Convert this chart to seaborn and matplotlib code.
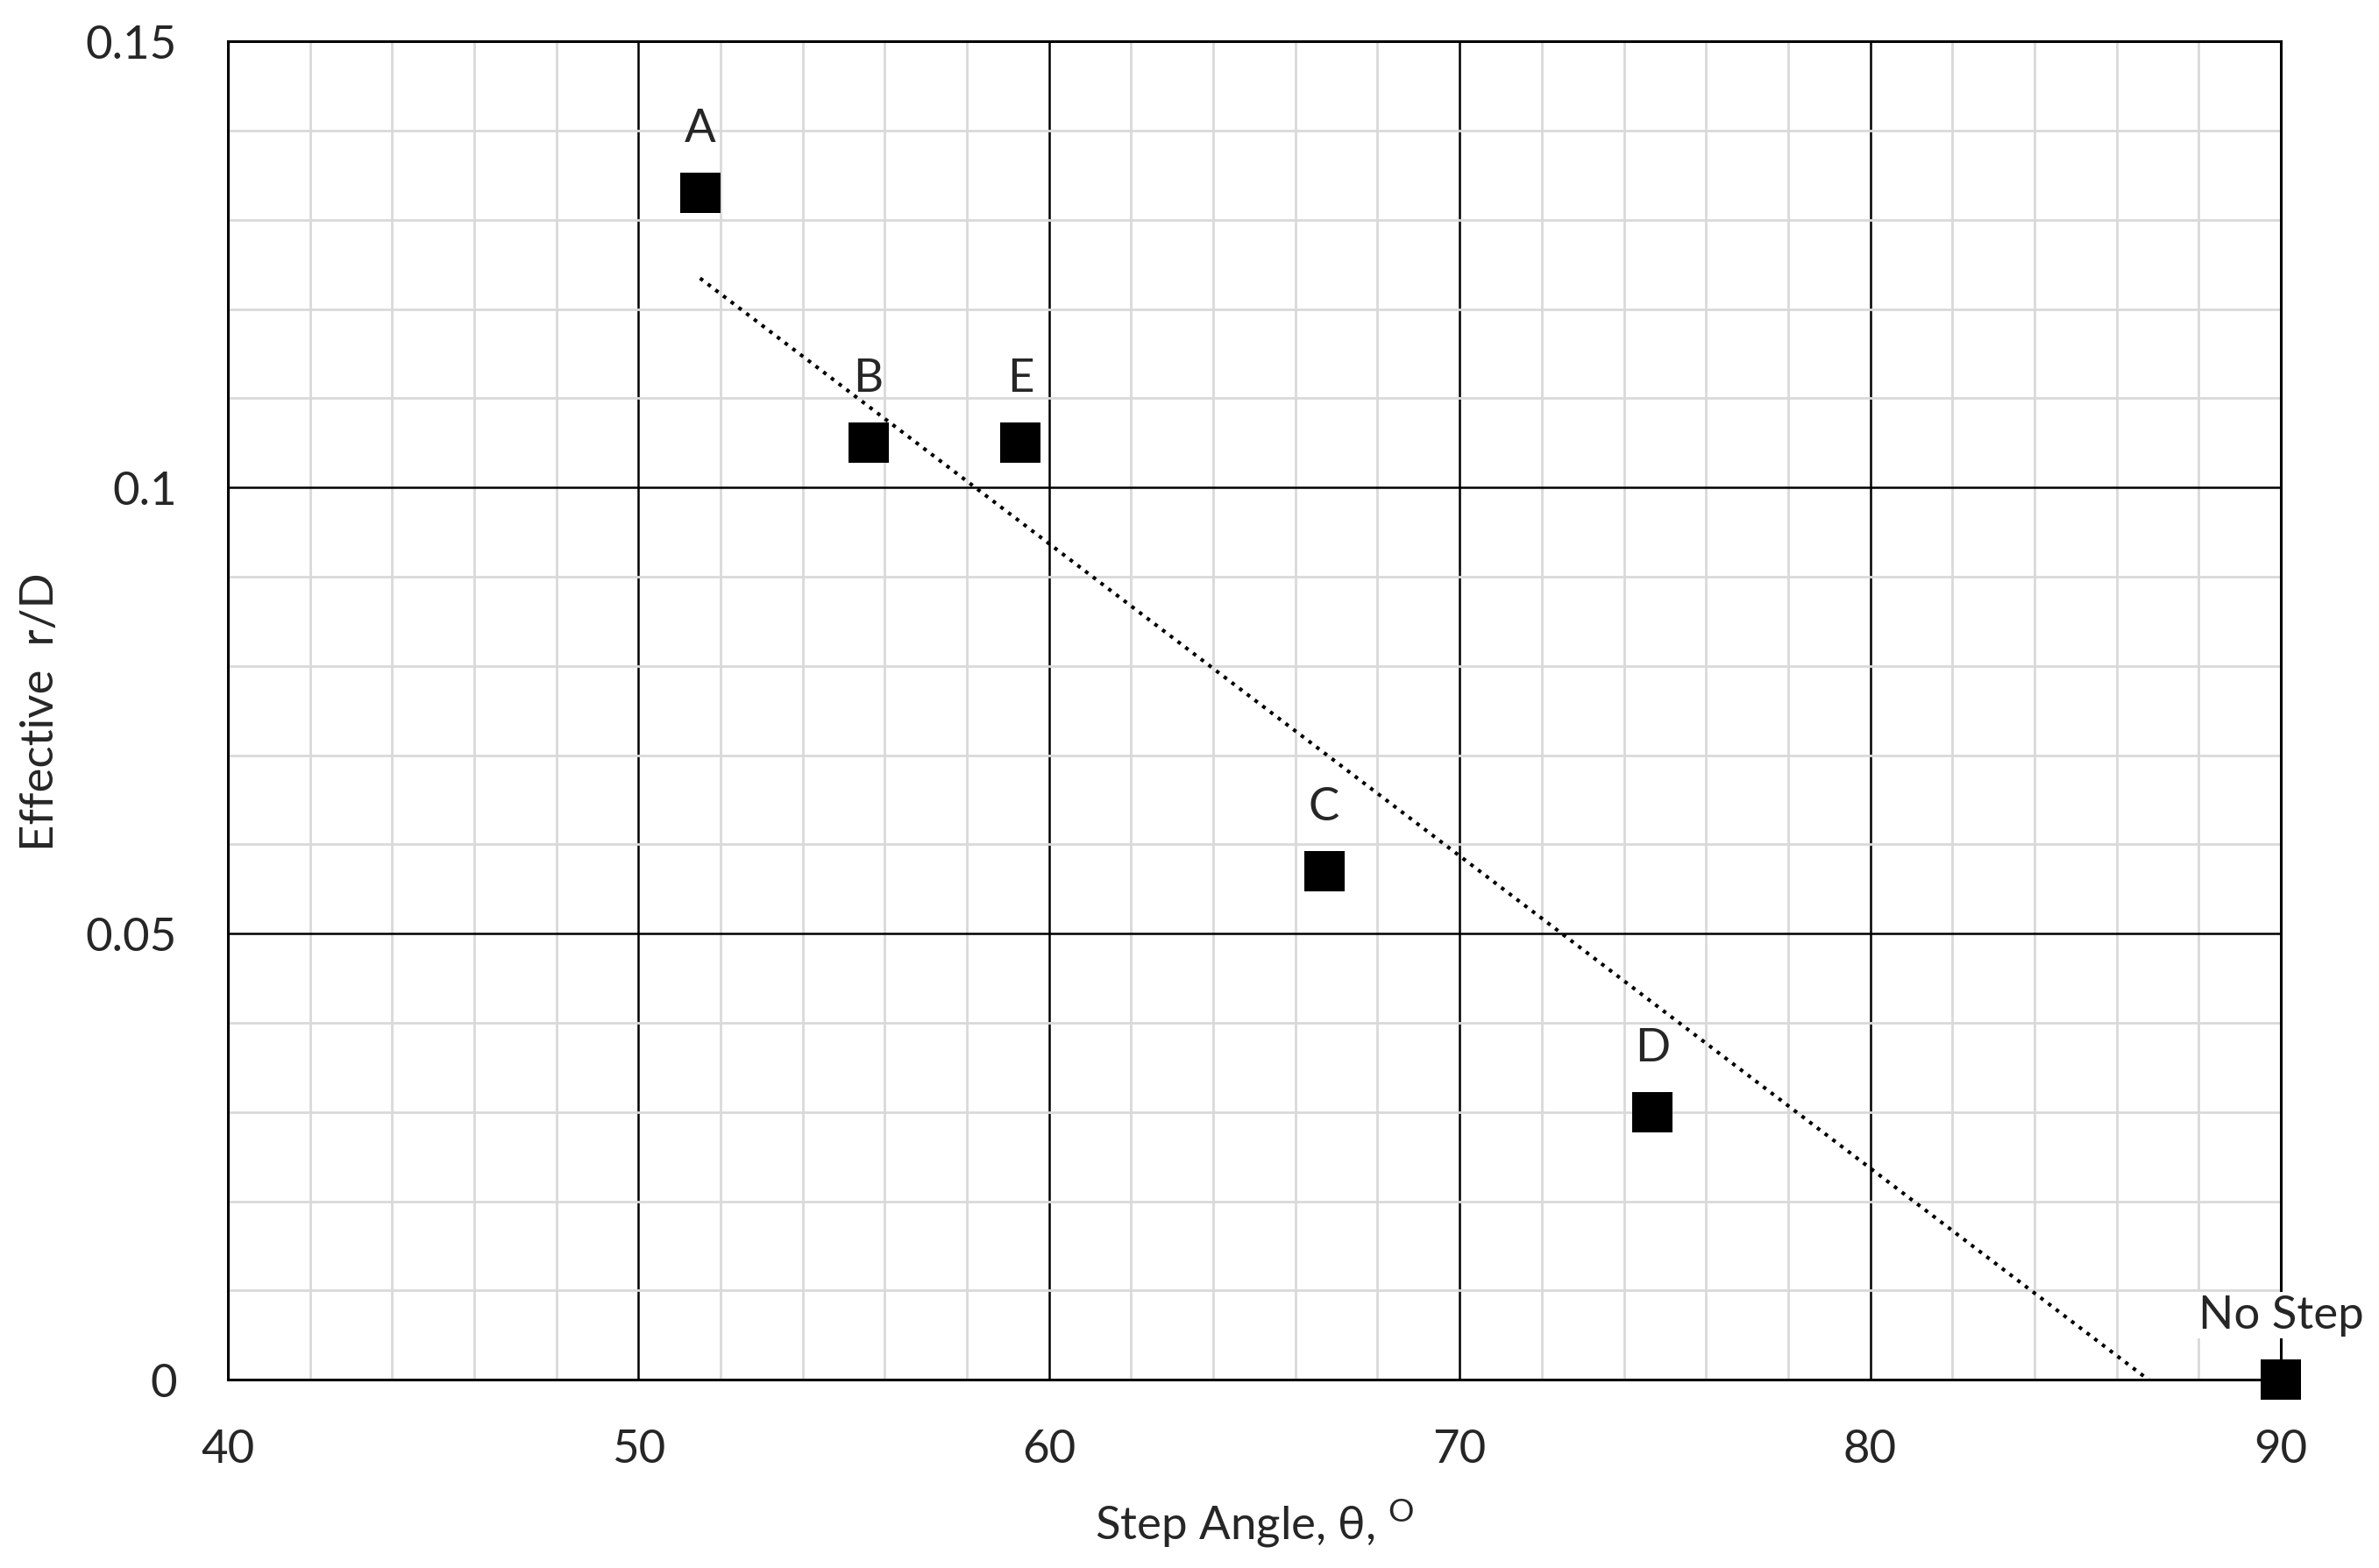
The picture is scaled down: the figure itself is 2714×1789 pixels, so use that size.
import matplotlib
matplotlib.use("Agg")
import matplotlib.pyplot as plt
from matplotlib.ticker import MultipleLocator
import pandas as pd
import seaborn as sns

# Datos
labels = ["A", "B", "E", "C", "D", "No Step"]
step_angle = [51.5, 55.6, 59.3, 66.7, 74.7, 90.0]
effective_rd = [0.133, 0.105, 0.105, 0.057, 0.030, 0.0]

df = pd.DataFrame({"label": labels, "angle": step_angle, "rd": effective_rd})

sns.set_style("white")
plt.rcParams["font.family"] = ["Lato", "DejaVu Sans"]
plt.rcParams["mathtext.fontset"] = "custom"
plt.rcParams["mathtext.rm"] = "Lato"

FS = 38

fig = plt.figure(figsize=(27.14, 17.90), dpi=100)
ax = fig.add_axes([0.0958, 0.120, 0.8629, 0.853])

# Línea de tendencia lineal (todos los puntos)
sns.regplot(data=df, x="angle", y="rd", ax=ax, scatter=False, ci=None, truncate=True,
            line_kws={"color": "black", "linestyle": ":", "linewidth": 3.0})

sns.scatterplot(data=df, x="angle", y="rd", ax=ax, marker="s", s=1100, color="black",
                edgecolor="none", clip_on=False, zorder=5)

for _, row in df.iterrows():
    kw = {}
    if row["label"] == "No Step":
        kw["bbox"] = dict(facecolor="white", edgecolor="none", pad=2)
    ax.annotate(row["label"], (row["angle"], row["rd"]), xytext=(0, 53),
                textcoords="offset points", ha="center", va="center",
                fontsize=FS, zorder=6, annotation_clip=False, **kw)

ax.set_xlim(40, 90)
ax.set_ylim(0, 0.15)
ax.xaxis.set_major_locator(MultipleLocator(10))
ax.xaxis.set_minor_locator(MultipleLocator(2))
ax.yaxis.set_major_locator(MultipleLocator(0.05))
ax.yaxis.set_minor_locator(MultipleLocator(0.01))
ax.set_yticks([0, 0.05, 0.1, 0.15])
ax.set_yticklabels(["0", "0.05", "0.1", "0.15"])

ax.grid(which="minor", color="#d9d9d9", linewidth=2.0, zorder=0)
ax.grid(which="major", color="black", linewidth=1.8, zorder=1)
ax.set_axisbelow(True)

for sp in ax.spines.values():
    sp.set_color("black")
    sp.set_linewidth(2.2)

ax.tick_params(which="both", length=0)
ax.tick_params(axis="x", pad=40, labelsize=FS)
ax.tick_params(axis="y", pad=42, labelsize=FS)

ax.set_xlabel(r"Step Angle, θ, $^{\mathregular{O}}$", fontsize=FS, labelpad=22)
ax.set_ylabel("Effective  r/D", fontsize=FS, labelpad=20)

fig.savefig("out.png", dpi=100)
plt.close(fig)
